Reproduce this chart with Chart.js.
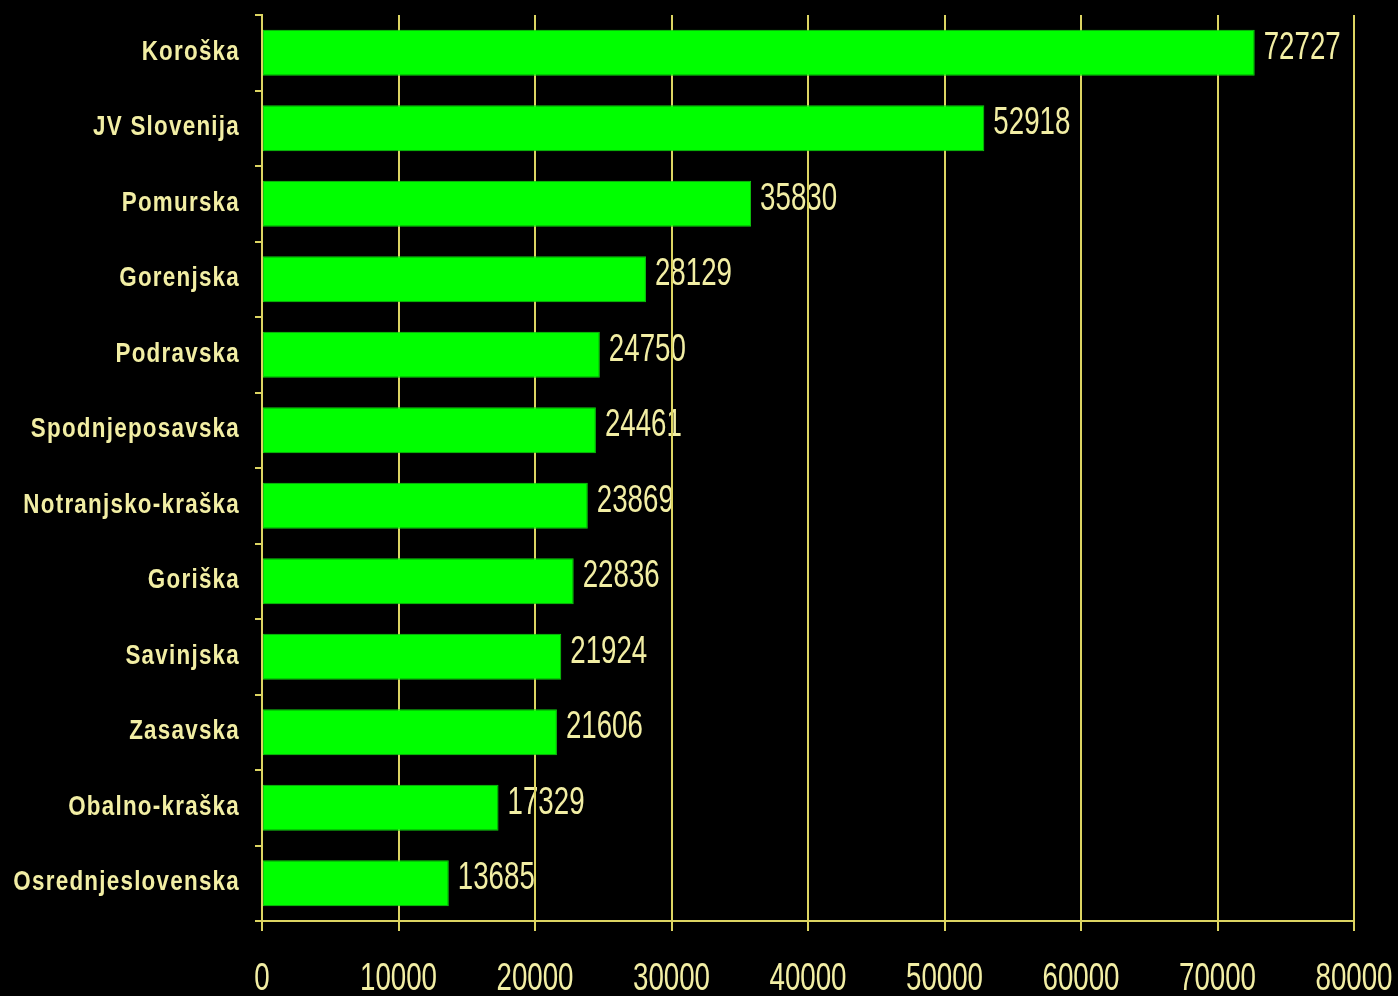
<!DOCTYPE html>
<html>
<head>
<meta charset="utf-8">
<script src="https://cdn.jsdelivr.net/npm/chart.js@4"></script>
<style>
  html, body { margin:0; padding:0; background:#000; }
  #wrap { width:1398px; height:996px; }
</style>
</head>
<body>
<div id="wrap"><canvas id="chart" width="1398" height="996"></canvas></div>
<script>
// regions and their values
const regions = ['Koroška','JV Slovenija','Pomurska','Gorenjska','Podravska','Spodnjeposavska',
  'Notranjsko-kraška','Goriška','Savinjska','Zasavska','Obalno-kraška','Osrednjeslovenska'];
const values = [72727,52918,35830,28129,24750,24461,23869,22836,21924,21606,17329,13685];
const xTicks = [0,10000,20000,30000,40000,50000,60000,70000,80000];

const textCol = '#f2eea4';
const lineCol = '#dcd462';
const numFont = '39px "Liberation Sans", Arial, sans-serif';
const catFont = 'bold 28px "Liberation Sans", Arial, sans-serif';

// narrow, tall text: squeeze horizontally
function drawText(ctx, txt, x, y, font, sx, align, spacing){
  ctx.save();
  ctx.translate(x, y);
  ctx.scale(sx, 1);
  ctx.font = font;
  ctx.letterSpacing = (spacing || 0) + 'px';
  ctx.textAlign = align;
  ctx.textBaseline = 'alphabetic';
  ctx.fillStyle = textCol;
  ctx.fillText(txt, 0, 0);
  ctx.restore();
}

// value labels go in beforeDraw so the grid lines cross over them
const valueLabels = {
  id:'valueLabels',
  beforeDraw(chart){
    const ctx = chart.ctx;
    ctx.save();
    ctx.fillStyle = '#000';
    ctx.fillRect(0,0,chart.width,chart.height);
    ctx.restore();
    chart.getDatasetMeta(0).data.forEach((bar,i)=>{
      drawText(ctx, String(values[i]), bar.x + 9, bar.y + 6, numFont, 0.71, 'left');
    });
  },
  afterDraw(chart){
    const ctx = chart.ctx;
    const xs = chart.scales.x, ys = chart.scales.y;
    regions.forEach((r,i)=>{
      drawText(ctx, r, ys.right - 22, ys.getPixelForValue(i) + 7, catFont, 0.8, 'right', 1.56);
    });
    xTicks.forEach(v=>{
      drawText(ctx, String(v), xs.getPixelForValue(v), 990, numFont, 0.71, 'center');
    });
  }
};

new Chart(document.getElementById('chart'), {
  type:'bar',
  data:{
    labels: regions,
    datasets:[{
      data: values,
      backgroundColor:'#00ff00',
      borderColor:'#10c810',
      borderWidth:1,
      borderSkipped:false,
      barPercentage:0.8,
      categoryPercentage:0.76
    }]
  },
  options:{
    indexAxis:'y',
    responsive:false,
    animation:false,
    layout:{ padding:{ top:15, right:44, left:0, bottom:0 } },
    plugins:{ legend:{display:false}, tooltip:{enabled:false} },
    scales:{
      x:{
        min:0, max:80000,
        afterFit(s){ s.height = 75; s.paddingLeft = 0; s.paddingRight = 0; },
        ticks:{ stepSize:10000, display:false },
        grid:{ color:lineCol, lineWidth:2, tickLength:10 },
        border:{ color:lineCol, width:2 }
      },
      y:{
        afterFit(s){ s.width = 262; s.paddingTop = 0; s.paddingBottom = 0; },
        ticks:{ display:false },
        grid:{ color:lineCol, lineWidth:2, drawOnChartArea:false, tickLength:7, offset:true },
        border:{ color:lineCol, width:2 }
      }
    }
  },
  plugins:[valueLabels]
});
</script>
</body>
</html>
